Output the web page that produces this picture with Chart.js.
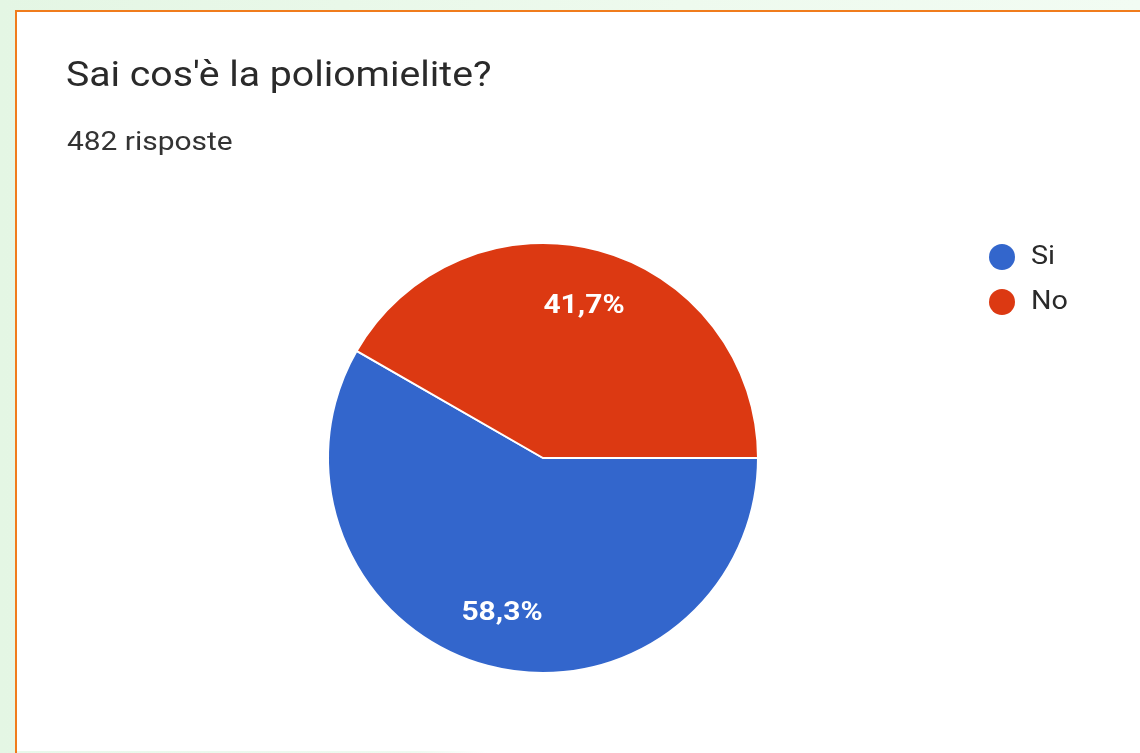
<!DOCTYPE html>
<html lang="it">
<head>
<meta charset="utf-8">
<title>Sai cos'è la poliomielite?</title>
<script src="https://cdn.jsdelivr.net/npm/chart.js@4/dist/chart.umd.min.js"></script>
<style>
  html, body { margin: 0; padding: 0; }
  body {
    width: 1140px; height: 753px; position: relative; overflow: hidden;
    background: linear-gradient(90deg, #e4f6e4 0%, #eefaee 60%, #f2fcf3 100%);
  }
  #card {
    position: absolute; left: 15px; top: 10px; right: 0; bottom: 0;
    background: #ffffff;
    border-top: 2px solid #f07c1c;
    border-left: 2px solid #f07c1c;
  }
  #strip {
    position: absolute; left: 17px; bottom: 0; width: 470px; height: 2px;
    background: linear-gradient(90deg, #e8f8ea 0%, #eefaf0 85%, rgba(255,255,255,0) 100%);
  }
  #wrap { position: absolute; left: 0; top: 0; width: 1140px; height: 753px; }
</style>
</head>
<body>
<div id="card"></div>
<div id="strip"></div>
<div id="wrap"><canvas id="chart" width="1140" height="753"></canvas></div>
<script>
// Survey question and answers
const questionTitle = "Sai cos'è la poliomielite?";
const responseNote = "482 risposte";
const answerLabels = ["Si", "No"];
const answerCounts = [281, 201];
const answerColors = ["#3366cc", "#dc3912"];

const FONT = "Roboto, 'Noto Sans', Arial, sans-serif";

// Draws text slightly widened horizontally around its anchor point
function wideText(ctx, text, x, y, stretch) {
  ctx.save();
  ctx.translate(x, y);
  ctx.scale(stretch, 1);
  ctx.fillText(text, 0, 0);
  ctx.restore();
}

// Header text: question and number of answers
const headerPlugin = {
  id: 'header',
  afterDraw(chart) {
    const ctx = chart.ctx;
    ctx.save();
    ctx.textAlign = 'left';
    ctx.textBaseline = 'alphabetic';
    ctx.fillStyle = '#2a2a2a';
    ctx.font = '400 35px ' + FONT;
    wideText(ctx, questionTitle, 66, 86, 1.12);
    ctx.fillStyle = '#333333';
    ctx.font = '400 26px ' + FONT;
    wideText(ctx, responseNote, 67, 150, 1.15);
    ctx.restore();
  }
};

// Percentage labels inside each slice
const sliceLabelPlugin = {
  id: 'sliceLabels',
  afterDatasetsDraw(chart) {
    const ctx = chart.ctx;
    const data = chart.data.datasets[0].data;
    const total = data.reduce((a, b) => a + b, 0);
    const meta = chart.getDatasetMeta(0);
    ctx.save();
    ctx.fillStyle = '#ffffff';
    ctx.font = '700 25px ' + FONT;
    ctx.textAlign = 'center';
    ctx.textBaseline = 'middle';
    meta.data.forEach((arc, i) => {
      const p = arc.getProps(['x', 'y', 'startAngle', 'endAngle', 'outerRadius'], true);
      const mid = (p.startAngle + p.endAngle) / 2;
      const r = p.outerRadius * 0.74;
      const pct = (data[i] / total * 100).toFixed(1).replace('.', ',') + '%';
      wideText(ctx, pct, p.x + Math.cos(mid) * r, p.y + Math.sin(mid) * r + 2, 1.2);
    });
    ctx.restore();
  }
};

// Legend on the right with round markers
const legendPlugin = {
  id: 'sideLegend',
  afterDraw(chart) {
    const ctx = chart.ctx;
    const x0 = 1002, y0 = 257, step = 45;
    ctx.save();
    chart.data.labels.forEach((lab, i) => {
      const y = y0 + i * step;
      ctx.beginPath();
      ctx.fillStyle = chart.data.datasets[0].backgroundColor[i];
      ctx.arc(x0, y, 13, 0, Math.PI * 2);
      ctx.fill();
      ctx.fillStyle = '#2a2a2a';
      ctx.font = '400 25px ' + FONT;
      ctx.textAlign = 'left';
      ctx.textBaseline = 'middle';
      wideText(ctx, lab, x0 + 29, y + 1, 1.15);
    });
    ctx.restore();
  }
};

new Chart(document.getElementById('chart'), {
  type: 'pie',
  data: {
    labels: answerLabels,
    datasets: [{
      data: answerCounts,
      backgroundColor: answerColors,
      borderColor: '#ffffff',
      borderWidth: 2,
      hoverOffset: 0
    }]
  },
  options: {
    responsive: false,
    animation: false,
    rotation: 90,
    layout: { padding: { left: 327, right: 381, top: 242, bottom: 79 } },
    plugins: {
      legend: { display: false },
      tooltip: { enabled: false },
      title: { display: false }
    }
  },
  plugins: [headerPlugin, sliceLabelPlugin, legendPlugin]
});
</script>
</body>
</html>
